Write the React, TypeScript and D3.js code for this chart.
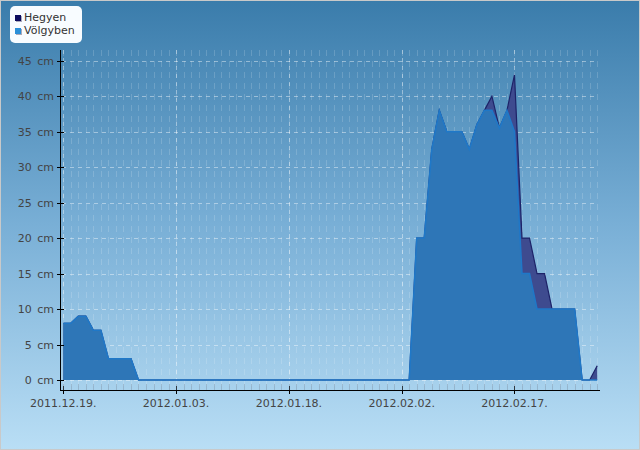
import React, { useEffect, useRef } from 'react';
import * as d3 from 'd3';

// first day of the series; one value per day after it
const startDay = new Date(2011, 11, 19);

const hegyen = [
  8, 8, 9, 9, 7, 7, 3, 3, 3, 3,
  0, 0, 0, 0, 0, 0, 0, 0, 0, 0,
  0, 0, 0, 0, 0, 0, 0, 0, 0, 0,
  0, 0, 0, 0, 0, 0, 0, 0, 0, 0,
  0, 0, 0, 0, 0, 0, 0,
  20, 20, 32.5, 38, 35, 35, 35, 32.5, 36, 38, 40, 35.5, 38, 43,
  20, 20, 15, 15, 10, 10, 10, 10, 0, 0, 2,
];

const volgyben = [
  8, 8, 9, 9, 7, 7, 3, 3, 3, 3,
  0, 0, 0, 0, 0, 0, 0, 0, 0, 0,
  0, 0, 0, 0, 0, 0, 0, 0, 0, 0,
  0, 0, 0, 0, 0, 0, 0, 0, 0, 0,
  0, 0, 0, 0, 0, 0, 0,
  20, 20, 32.5, 38, 35, 35, 35, 32.5, 36, 38, 38, 35.5, 38, 35,
  15, 15, 10, 10, 10, 10, 10, 10, 0, 0, 0,
];

const xTickLabels = ['2011.12.19.', '2012.01.03.', '2012.01.18.', '2012.02.02.', '2012.02.17.'];
const yTicks = [0, 5, 10, 15, 20, 25, 30, 35, 40, 45];

const seriesNames = ['Hegyen', 'Völgyben'];
const seriesColors = ['#0c0c5e', '#2a8fd8'];

const W = 640;
const H = 450;

export default function App() {
  const svgRef = useRef<SVGSVGElement>(null);

  useEffect(() => {
    if (!svgRef.current) return;
    const svg = d3.select(svgRef.current);
    svg.selectAll('*').remove();

    const days = hegyen.map((_, i) => d3.timeDay.offset(startDay, i));
    const parseTick = d3.timeParse('%Y.%m.%d.');
    const tickDates = xTickLabels.map(s => parseTick(s) as Date);

    const x = d3.scaleTime()
      .domain([days[0], days[days.length - 1]])
      .range([63.3, 597.2]);
    const y = d3.scaleLinear().domain([0, 45]).range([380, 60.7]);

    // background gradient
    const defs = svg.append('defs');
    const grad = defs.append('linearGradient')
      .attr('id', 'bg').attr('x1', 0).attr('y1', 0).attr('x2', 0).attr('y2', 1);
    grad.append('stop').attr('offset', '0%').attr('stop-color', '#3a7cab');
    grad.append('stop').attr('offset', '50%').attr('stop-color', '#79afd6');
    grad.append('stop').attr('offset', '100%').attr('stop-color', '#b9def5');

    svg.append('rect')
      .attr('x', 0.5).attr('y', 0.5)
      .attr('width', W - 1).attr('height', H - 1)
      .attr('fill', 'url(#bg)')
      .attr('stroke', '#c9c9c9');

    const gridTop = 50;
    const gridBottom = 390;

    // minor daily grid
    svg.append('g')
      .attr('stroke', 'rgba(255,255,255,0.16)')
      .attr('stroke-dasharray', '6,5')
      .selectAll('line')
      .data(days)
      .join('line')
      .attr('x1', d => Math.round(x(d)) + 0.5)
      .attr('x2', d => Math.round(x(d)) + 0.5)
      .attr('y1', gridTop)
      .attr('y2', gridBottom);

    // major grid
    svg.append('g')
      .attr('stroke', 'rgba(255,255,255,0.42)')
      .attr('stroke-dasharray', '4,4')
      .call(g => g.selectAll('line.v')
        .data(tickDates)
        .join('line')
        .attr('class', 'v')
        .attr('x1', d => Math.round(x(d)) + 0.5)
        .attr('x2', d => Math.round(x(d)) + 0.5)
        .attr('y1', gridTop)
        .attr('y2', 380))
      .call(g => g.selectAll('line.h')
        .data(yTicks)
        .join('line')
        .attr('class', 'h')
        .attr('x1', 62)
        .attr('x2', 598)
        .attr('y1', d => Math.round(y(d)) + 0.5)
        .attr('y2', d => Math.round(y(d)) + 0.5));

    // areas
    const area = d3.area<number>()
      .x((_, i) => x(days[i]))
      .y0(y(0))
      .y1(d => y(d))
      .curve(d3.curveLinear);
    const line = d3.line<number>()
      .x((_, i) => x(days[i]))
      .y(d => y(d));

    svg.append('path')
      .datum(hegyen)
      .attr('fill', '#3e4b8f')
      .attr('d', area);
    svg.append('path')
      .datum(hegyen)
      .attr('fill', 'none')
      .attr('stroke', '#1d2368')
      .attr('stroke-width', 1.2)
      .attr('d', line);

    svg.append('path')
      .datum(volgyben)
      .attr('fill', '#2e76b7')
      .attr('d', area);
    svg.append('path')
      .datum(volgyben)
      .attr('fill', 'none')
      .attr('stroke', '#1f78c8')
      .attr('stroke-width', 1.5)
      .attr('d', line);

    // axes
    const axisG = svg.append('g').attr('stroke', '#000');
    axisG.append('line')
      .attr('x1', 60.5).attr('x2', 60.5)
      .attr('y1', gridTop).attr('y2', gridBottom + 0.5);
    axisG.append('line')
      .attr('x1', 60).attr('x2', 600)
      .attr('y1', gridBottom + 0.5).attr('y2', gridBottom + 0.5);

    // minor x ticks
    svg.append('g')
      .attr('stroke', 'rgba(120,140,160,0.4)')
      .selectAll('line')
      .data(days)
      .join('line')
      .attr('x1', d => Math.round(x(d)) + 0.5)
      .attr('x2', d => Math.round(x(d)) + 0.5)
      .attr('y1', gridBottom - 6)
      .attr('y2', gridBottom);

    axisG.selectAll('line.xt')
      .data(tickDates)
      .join('line')
      .attr('class', 'xt')
      .attr('x1', d => Math.round(x(d)) + 0.5)
      .attr('x2', d => Math.round(x(d)) + 0.5)
      .attr('y1', gridBottom - 4)
      .attr('y2', gridBottom + 4);

    axisG.selectAll('line.yt')
      .data(yTicks)
      .join('line')
      .attr('class', 'yt')
      .attr('x1', 57)
      .attr('x2', 64)
      .attr('y1', d => Math.round(y(d)) + 0.5)
      .attr('y2', d => Math.round(y(d)) + 0.5);

    const font = 'DejaVu Sans, sans-serif';

    svg.append('g')
      .selectAll('text')
      .data(tickDates)
      .join('text')
      .attr('x', d => x(d))
      .attr('y', 407)
      .attr('text-anchor', 'middle')
      .attr('font-family', font)
      .attr('font-size', 11)
      .attr('fill', '#444')
      .text((_, i) => xTickLabels[i]);

    svg.append('g')
      .selectAll('text')
      .data(yTicks)
      .join('text')
      .attr('x', 54)
      .attr('y', d => y(d) + 4)
      .attr('text-anchor', 'end')
      .attr('font-family', font)
      .attr('font-size', 11)
      .attr('fill', '#444')
      .text(d => `${d}\u2002cm`);

    // legend
    const legend = svg.append('g');
    legend.append('rect')
      .attr('x', 10).attr('y', 6)
      .attr('width', 72).attr('height', 37)
      .attr('rx', 5)
      .attr('fill', '#f8fcff');
    const items = legend.selectAll('g.item')
      .data(seriesNames)
      .join('g')
      .attr('class', 'item')
      .attr('transform', (_, i) => `translate(15,${15 + i * 13})`);
    items.append('rect')
      .attr('x', 1).attr('y', 1).attr('width', 6).attr('height', 6)
      .attr('fill', '#aab');
    items.append('rect')
      .attr('width', 6).attr('height', 6)
      .attr('fill', (_, i) => seriesColors[i]);
    items.append('text')
      .attr('x', 9)
      .attr('y', 5.5)
      .attr('font-family', font)
      .attr('font-size', 11)
      .attr('fill', '#333')
      .text(d => d);
  }, []);

  return (
    <svg
      ref={svgRef}
      width={W}
      height={H}
      style={{ position: 'absolute', left: 0, top: 0, display: 'block' }}
    />
  );
}
